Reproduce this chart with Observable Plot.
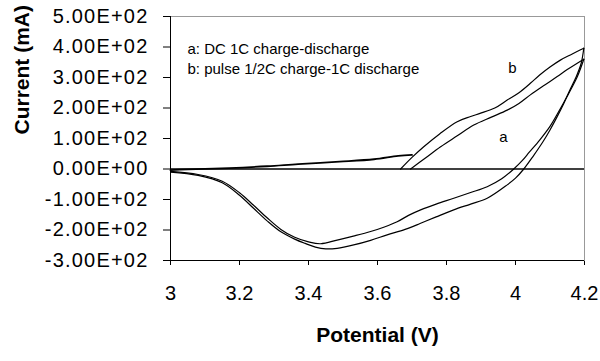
<!DOCTYPE html>
<html>
<head>
<meta charset="utf-8">
<script src="https://cdn.jsdelivr.net/npm/d3@7"></script>
<script src="https://cdn.jsdelivr.net/npm/@observablehq/plot@0.6"></script>
<style>
  body { margin: 0; background: white; }
</style>
</head>
<body>
<div id="chart"></div>
<script>
// Axis ticks and labels
const xTicks = [3, 3.2, 3.4, 3.6, 3.8, 4, 4.2];
const xTickLabels = ["3", "3.2", "3.4", "3.6", "3.8", "4", "4.2"];
const yTicks = [-300, -200, -100, 0, 100, 200, 300, 400, 500];
const yTickLabels = ["-3.00E+02", "-2.00E+02", "-1.00E+02", "0.00E+00", "1.00E+02", "2.00E+02", "3.00E+02", "4.00E+02", "5.00E+02"];

// Legend and curve labels
const legendLines = ["a: DC 1C charge-discharge", "b: pulse 1/2C charge-1C discharge"];
const curveLabels = ["a", "b"];
const curveLabelV = [3.965, 3.991];
const curveLabelI = [105, 331];

// Near-flat initial segment
const flatV = [3.00, 3.05, 3.17, 3.28, 3.37, 3.49, 3.59, 3.66, 3.70];
const flatI = [-4, -1, 3, 9, 16, 24, 32, 43, 46];

// Curve b: charge branch (upper)
const bChargeV = [3.667, 3.70, 3.734, 3.78, 3.831, 3.87, 3.899, 3.94, 3.976, 4.01, 4.043, 4.07, 4.101, 4.13, 4.159, 4.18, 4.198];
const bChargeI = [0, 38, 73, 115, 155, 172, 183, 200, 226, 250, 281, 308, 335, 357, 374, 386, 396];

// Curve b: discharge branch (outer lower loop)
const bDisV = [4.198, 4.19, 4.175, 4.159, 4.14, 4.12, 4.10, 4.08, 4.05, 4.024, 4.0, 3.976, 3.918, 3.87, 3.821, 3.77, 3.725, 3.68, 3.628, 3.58, 3.531, 3.483, 3.45, 3.42, 3.39, 3.36, 3.32, 3.28, 3.24, 3.20, 3.15, 3.08, 3.0];
const bDisI = [396, 345, 300, 262, 215, 170, 128, 90, 40, 0, -30, -52, -96, -115, -134, -157, -178, -198, -216, -234, -249, -260, -262, -256, -244, -230, -206, -170, -128, -86, -45, -21, -10];

// Curve a: charge branch (upper)
const aChargeV = [3.696, 3.74, 3.783, 3.83, 3.879, 3.93, 3.976, 4.01, 4.043, 4.08, 4.121, 4.15, 4.179, 4.198];
const aChargeI = [0, 37, 73, 108, 144, 170, 193, 215, 243, 272, 303, 326, 347, 360];

// Curve a: discharge branch (inner lower loop)
const aDisV = [4.198, 4.18, 4.16, 4.14, 4.12, 4.10, 4.07, 4.04, 4.02, 3.995, 3.96, 3.918, 3.87, 3.821, 3.77, 3.725, 3.69, 3.657, 3.62, 3.58, 3.53, 3.483, 3.435, 3.40, 3.36, 3.32, 3.28, 3.24, 3.20, 3.15, 3.08, 3.0];
const aDisI = [360, 305, 260, 218, 178, 140, 95, 55, 28, 0, -32, -58, -77, -96, -115, -134, -152, -173, -190, -205, -220, -233, -245, -239, -224, -198, -160, -118, -78, -40, -18, -8];

const rows = (vs, is) => vs.map((v, k) => ({v, i: is[k]}));
const lineOpts = {x: "v", y: "i", stroke: "black", strokeWidth: 1.2, curve: "catmull-rom"};

const chart = Plot.plot({
  width: 600,
  height: 361,
  marginLeft: 170,
  marginRight: 16,
  marginTop: 16,
  marginBottom: 101,
  style: {
    fontFamily: "'Liberation Sans', Arial, sans-serif",
    fontSize: "20px",
    color: "black",
    background: "white",
    overflow: "visible"
  },
  x: {
    domain: [3, 4.2],
    ticks: xTicks,
    tickFormat: d => xTickLabels[xTicks.indexOf(d)],
    tickSize: 5,
    tickPadding: 20,
    label: null
  },
  y: {
    domain: [-300, 500],
    ticks: yTicks,
    tickFormat: d => yTickLabels[yTicks.indexOf(d)],
    tickSize: 7,
    tickPadding: 15,
    label: null
  },
  marks: [
    Plot.frame({stroke: "#999"}),
    Plot.ruleX([3], {stroke: "black", strokeWidth: 1}),
    Plot.ruleY([-300], {stroke: "black", strokeWidth: 1}),
    Plot.ruleY([0], {stroke: "black", strokeWidth: 1.6}),
    Plot.line(rows(flatV, flatI), {...lineOpts, strokeWidth: 1.8}),
    Plot.line(rows(bChargeV, bChargeI), lineOpts),
    Plot.line(rows(bDisV, bDisI), lineOpts),
    Plot.line(rows(aChargeV, aChargeI), lineOpts),
    Plot.line(rows(aDisV, aDisI), lineOpts),
    Plot.text(curveLabels, {x: (d, k) => curveLabelV[k], y: (d, k) => curveLabelI[k], text: d => d, fontSize: 15}),
    Plot.text([legendLines[0]], {frameAnchor: "top-left", dx: 17, dy: 27, textAnchor: "start", text: d => d, fontSize: 15}),
    Plot.text([legendLines[1]], {frameAnchor: "top-left", dx: 17, dy: 47, textAnchor: "start", text: d => d, fontSize: 15}),
    Plot.text(["Potential (V)"], {frameAnchor: "bottom", dy: 81, text: d => d, fontSize: 21, fontWeight: "bold"}),
    Plot.text(["Current (mA)"], {frameAnchor: "left", dx: -148, dy: -4, rotate: -90, text: d => d, fontSize: 21, fontWeight: "bold"})
  ]
});

// Light gray tick marks and slightly wider y tick labels, as in the reference
d3.select(chart).selectAll("g[aria-label^='x-axis'] line, g[aria-label^='y-axis'] line").attr("stroke", "#888");
d3.select(chart).selectAll("g[aria-label^='y-axis'] text").style("letter-spacing", "1.2px");

document.getElementById("chart").appendChild(chart);
</script>
</body>
</html>
